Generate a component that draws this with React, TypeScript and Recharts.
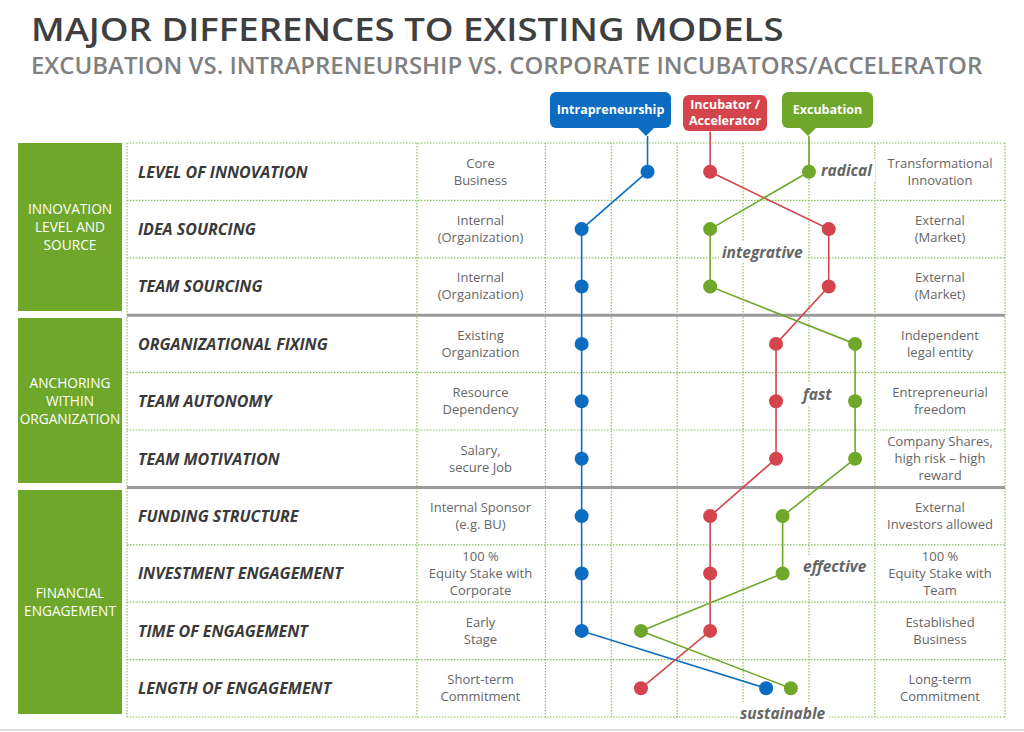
import { useLayoutEffect, useRef, useState } from 'react'
import { LineChart, Line, XAxis, YAxis, CartesianGrid, ReferenceLine } from 'recharts'

const rows = [
  'LEVEL OF INNOVATION',
  'IDEA SOURCING',
  'TEAM SOURCING',
  'ORGANIZATIONAL FIXING',
  'TEAM AUTONOMY',
  'TEAM MOTIVATION',
  'FUNDING STRUCTURE',
  'INVESTMENT ENGAGEMENT',
  'TIME OF ENGAGEMENT',
  'LENGTH OF ENGAGEMENT',
]

const leftPoles = [
  ['Core', 'Business'],
  ['Internal', '(Organization)'],
  ['Internal', '(Organization)'],
  ['Existing', 'Organization'],
  ['Resource', 'Dependency'],
  ['Salary,', 'secure Job'],
  ['Internal Sponsor', '(e.g. BU)'],
  ['100 %', 'Equity Stake with', 'Corporate'],
  ['Early', 'Stage'],
  ['Short-term', 'Commitment'],
]

const rightPoles = [
  ['Transformational', 'Innovation'],
  ['External', '(Market)'],
  ['External', '(Market)'],
  ['Independent', 'legal entity'],
  ['Entrepreneurial', 'freedom'],
  ['Company Shares,', 'high risk – high', 'reward'],
  ['External', 'Investors allowed'],
  ['100 %', 'Equity Stake with', 'Team'],
  ['Established', 'Business'],
  ['Long-term', 'Commitment'],
]

// position between the two poles, 0 = left pole column edge, 10 = right pole column edge
const intrapreneurship = [3.1, 1.1, 1.1, 1.1, 1.1, 1.1, 1.1, 1.1, 1.1, 6.7]
const incubator = [5, 8.6, 8.6, 7, 7, 7, 5, 5, 5, 2.9]
const excubation = [8, 5, 5, 9.4, 9.4, 9.4, 7.2, 7.2, 2.9, 7.45]

const groups = [
  { lines: ['INNOVATION', 'LEVEL AND', 'SOURCE'], from: 0, to: 3 },
  { lines: ['ANCHORING', 'WITHIN', 'ORGANIZATION'], from: 3, to: 6 },
  { lines: ['FINANCIAL', 'ENGAGEMENT'], from: 6, to: 10 },
]

const BLUE = '#0b6cc2'
const RED = '#d4444c'
const GREEN = '#6fa72b'
const FONT = "'Open Sans', sans-serif"

const N = rows.length
const X_MIN = -12.7
const X_MAX = 13.95
const columnTicks = [-3.9, 0, 2, 4, 6, 8, 10, X_MAX]
const rowBounds = rows.map((_, i) => i).concat(N)

// in the vertical layout the numeric y axis runs top -> bottom, so row 0 is the top row
const data = rows.map((row, i) => ({
  row,
  pos: i + 0.5,
  intra: intrapreneurship[i],
  incub: incubator[i],
  excub: excubation[i],
}))

const TOP = 143
const BOTTOM = 717
const ROW_H = (BOTTOM - TOP) / N

const annotations = [
  { text: 'radical', x: 818, y: 170 },
  { text: 'integrative', x: 719, y: 252 },
  { text: 'fast', x: 800, y: 394 },
  { text: 'effective', x: 800, y: 566 },
  { text: 'sustainable', x: 737, y: 713 },
]

// condensed heading: the text is squeezed to a target width
function Squeezed({ text, left, top, width, fontSize, lineHeight, color }: any) {
  const ref = useRef<HTMLSpanElement>(null)
  const [scale, setScale] = useState(1)
  useLayoutEffect(() => {
    if (ref.current) setScale(width / ref.current.offsetWidth)
  }, [width])
  return (
    <span
      ref={ref}
      style={{
        position: 'absolute',
        left,
        top,
        fontSize,
        lineHeight: lineHeight + 'px',
        height: lineHeight,
        fontWeight: 600,
        color,
        whiteSpace: 'nowrap',
        transform: `scaleX(${scale})`,
        transformOrigin: 'left top',
      }}
    >
      {text}
    </span>
  )
}

function Badge({ left, top, width, height, color, lines, tipX }: any) {
  return (
    <>
      <div
        style={{
          position: 'absolute',
          left,
          top,
          width,
          height,
          background: color,
          borderRadius: 6,
          color: '#fff',
          fontWeight: 700,
          fontSize: 12.5,
          lineHeight: '16px',
          display: 'flex',
          flexDirection: 'column',
          alignItems: 'center',
          justifyContent: 'center',
        }}
      >
        {lines.map((l: string) => (
          <span key={l}>{l}</span>
        ))}
      </div>
      {tipX != null && (
        <div
          style={{
            position: 'absolute',
            left: tipX - 9,
            top: top + height - 1,
            width: 0,
            height: 0,
            borderLeft: '9px solid transparent',
            borderRight: '9px solid transparent',
            borderTop: `9px solid ${color}`,
          }}
        />
      )}
    </>
  )
}

function Cell({ left, width, top, lines }: any) {
  return (
    <div
      style={{
        position: 'absolute',
        left,
        width,
        top,
        height: ROW_H,
        display: 'flex',
        flexDirection: 'column',
        alignItems: 'center',
        justifyContent: 'center',
        textAlign: 'center',
        color: '#666',
        fontSize: 13,
        lineHeight: '17px',
        whiteSpace: 'nowrap',
      }}
    >
      {lines.map((l: string, k: number) => (
        <span key={k}>{l}</span>
      ))}
    </div>
  )
}

export default function App() {
  return (
    <div
      style={{
        position: 'absolute',
        left: 0,
        top: 0,
        width: 1024,
        height: 732,
        background: '#fff',
        overflow: 'hidden',
        fontFamily: FONT,
      }}
    >
      <Squeezed text="MAJOR DIFFERENCES TO EXISTING MODELS" left={31} top={13.5} width={752} fontSize={33} lineHeight={30} color="#3f3f3f" />
      <Squeezed
        text="EXCUBATION VS. INTRAPRENEURSHIP VS. CORPORATE INCUBATORS/ACCELERATOR"
        left={31}
        top={56}
        width={951}
        fontSize={22.5}
        lineHeight={20}
        color="#808080"
      />

      {groups.map((g) => {
        const top = TOP + g.from * ROW_H + (g.from > 0 ? 3 : 0)
        const bottom = TOP + g.to * ROW_H - (g.to < N ? 4 : 3)
        return (
          <div
            key={g.lines[0]}
            style={{
              position: 'absolute',
              left: 18,
              top,
              width: 104,
              height: bottom - top,
              background: GREEN,
              color: '#fff',
              fontSize: 13.7,
              lineHeight: '18px',
              display: 'flex',
              flexDirection: 'column',
              alignItems: 'center',
              justifyContent: 'center',
              textAlign: 'center',
            }}
          >
            {g.lines.map((l) => (
              <span key={l}>{l}</span>
            ))}
          </div>
        )
      })}

      <div style={{ position: 'absolute', left: 0, top: 0 }}>
        <LineChart
          width={1024}
          height={732}
          data={data}
          layout="vertical"
          margin={{ top: TOP, right: 1024 - 1005, bottom: 732 - BOTTOM, left: 127 }}
        >
          <CartesianGrid stroke="#8cc05a" strokeDasharray="1.5 1.5" strokeWidth={1.2} />
          <XAxis type="number" domain={[X_MIN, X_MAX]} ticks={columnTicks} hide allowDataOverflow />
          <YAxis type="number" dataKey="pos" domain={[0, N]} ticks={rowBounds} hide allowDataOverflow />
          <ReferenceLine y={3} stroke="#9a9a9a" strokeWidth={3} />
          <ReferenceLine y={6} stroke="#9a9a9a" strokeWidth={3} />
          <ReferenceLine
            segment={[
              { x: intrapreneurship[0], y: -0.12 },
              { x: intrapreneurship[0], y: 0.5 },
            ]}
            stroke={BLUE}
            strokeWidth={1.6}
            ifOverflow="visible"
          />
          <ReferenceLine
            segment={[
              { x: incubator[0], y: -0.2 },
              { x: incubator[0], y: 0.5 },
            ]}
            stroke={RED}
            strokeWidth={1.6}
            ifOverflow="visible"
          />
          <ReferenceLine
            segment={[
              { x: excubation[0], y: -0.12 },
              { x: excubation[0], y: 0.5 },
            ]}
            stroke={GREEN}
            strokeWidth={1.6}
            ifOverflow="visible"
          />
          <Line dataKey="intra" stroke={BLUE} strokeWidth={1.6} dot={{ r: 7, fill: BLUE, stroke: BLUE, strokeWidth: 0 }} activeDot={false} isAnimationActive={false} />
          <Line dataKey="incub" stroke={RED} strokeWidth={1.6} dot={{ r: 7, fill: RED, stroke: RED, strokeWidth: 0 }} activeDot={false} isAnimationActive={false} />
          <Line dataKey="excub" stroke={GREEN} strokeWidth={1.6} dot={{ r: 7, fill: GREEN, stroke: GREEN, strokeWidth: 0 }} activeDot={false} isAnimationActive={false} />
        </LineChart>
      </div>

      {rows.map((r, i) => (
        <div
          key={r}
          style={{
            position: 'absolute',
            left: 138,
            top: TOP + i * ROW_H,
            height: ROW_H,
            display: 'flex',
            alignItems: 'center',
            color: '#3a3a3a',
            fontSize: 16,
            fontWeight: 700,
            fontStyle: 'italic',
            whiteSpace: 'nowrap',
          }}
        >
          {r}
        </div>
      ))}
      {rows.map((r, i) => (
        <Cell key={'l' + r} left={416} width={129} top={TOP + i * ROW_H} lines={leftPoles[i]} />
      ))}
      {rows.map((r, i) => (
        <Cell key={'r' + r} left={875} width={130} top={TOP + i * ROW_H} lines={rightPoles[i]} />
      ))}

      {annotations.map((a) => (
        <div
          key={a.text}
          style={{
            position: 'absolute',
            left: a.x,
            top: a.y - 11,
            height: 22,
            lineHeight: '22px',
            padding: '0 3px',
            background: '#fff',
            color: '#666',
            fontWeight: 700,
            fontStyle: 'italic',
            fontSize: 15.5,
          }}
        >
          {a.text}
        </div>
      ))}

      <Badge left={550} top={92} width={121} height={36} color={BLUE} lines={['Intrapreneurship']} tipX={646} />
      <Badge left={683} top={95} width={84} height={36} color={RED} lines={['Incubator /', 'Accelerator']} />
      <Badge left={782} top={92} width={91} height={36} color={GREEN} lines={['Excubation']} tipX={808} />

      <div style={{ position: 'absolute', left: 0, top: 729, width: 1024, height: 2, background: '#dcdcdc' }} />
    </div>
  )
}
